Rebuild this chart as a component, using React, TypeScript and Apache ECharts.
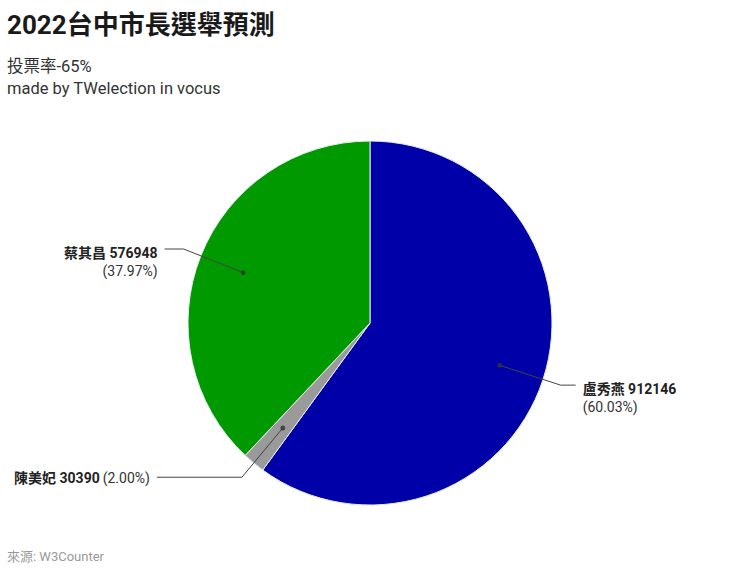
import React, { useEffect, useRef } from "react";
import * as echarts from "echarts";

const candidates = ["盧秀燕", "陳美妃", "蔡其昌"];
const votes = [912146, 30390, 576948];
const colors = ["#0000a8", "#9a9a9a", "#009900"];
const titleText = "2022台中市長選舉預測";
const subtitleLines = ["投票率-65%", "made by TWelection in vocus"];
const sourceText = "來源: W3Counter";

const FONT = 'Roboto, "Noto Sans CJK TC", "Noto Sans", sans-serif';
const CX = 370;
const CY = 323;
const PIE_R = 182;
const DOT_RATIO = 0.75;

export default function App() {
  const ref = useRef<HTMLDivElement>(null);
  useEffect(() => {
    document.body.style.margin = "0";
    if (!ref.current) return;
    const chart = echarts.init(ref.current, undefined, { renderer: "svg" });
    const total = votes.reduce((a, b) => a + b, 0);
    const pct = votes.map((v) => ((v / total) * 100).toFixed(2));
    let cum = 0;
    const mids = votes.map((v) => {
      const m = cum + v / 2;
      cum += v;
      return m;
    });
    const singleLine = [false, true, false];
    const length2s = [15, 85, 19];

    const labelData = candidates.map((name, i) => ({
      name,
      value: votes[i],
      label: {
        formatter: singleLine[i]
          ? `{b|${name} ${votes[i]}} {p|(${pct[i]}%)}`
          : `{b|${name} ${votes[i]}}\n{p|(${pct[i]}%)}`,
        padding: singleLine[i] ? [2, 0, 0, 0] : [25, 0, 0, 0],
      },
      labelLine: { length: 64, length2: length2s[i] },
    }));

    chart.setOption({
      animation: false,
      textStyle: { fontFamily: FONT },
      title: {
        left: 7,
        top: 11,
        padding: 0,
        text: titleText,
        textStyle: {
          fontFamily: FONT,
          fontSize: 26,
          fontWeight: "bold",
          color: "#1a1a1a",
          lineHeight: 28,
        },
        subtext: subtitleLines.join("\n"),
        subtextStyle: {
          fontFamily: FONT,
          fontSize: 16.5,
          color: "#333333",
          lineHeight: 22,
        },
        itemGap: 16,
      },
      polar: { center: [CX, CY], radius: PIE_R },
      angleAxis: {
        type: "value",
        min: 0,
        max: total,
        startAngle: 90,
        clockwise: true,
        show: false,
      },
      radiusAxis: { type: "value", min: 0, max: 1, show: false },
      graphic: [
        {
          type: "text",
          left: 7,
          top: 550,
          style: {
            text: sourceText,
            fontFamily: FONT,
            fontSize: 13,
            fill: "#999999",
          },
        },
      ],
      series: [
        {
          type: "pie",
          z: 1,
          center: [CX, CY],
          radius: [0, PIE_R],
          startAngle: 90,
          clockwise: true,
          silent: true,
          label: { show: false },
          labelLine: { show: false },
          itemStyle: { borderColor: "#e6ecf5", borderWidth: 1 },
          data: candidates.map((name, i) => ({
            name,
            value: votes[i],
            itemStyle: { color: colors[i] },
          })),
        },
        {
          type: "pie",
          z: 5,
          center: [CX, CY],
          radius: [0, PIE_R * DOT_RATIO],
          startAngle: 90,
          clockwise: true,
          silent: true,
          avoidLabelOverlap: false,
          itemStyle: { color: "rgba(0,0,0,0)", borderWidth: 0 },
          label: {
            show: true,
            position: "outside",
            distanceToLabelLine: 7,
            rich: {
              b: {
                fontFamily: FONT,
                fontSize: 14,
                fontWeight: "bold",
                color: "#222222",
                lineHeight: 18,
              },
              p: {
                fontFamily: FONT,
                fontSize: 14,
                color: "#333333",
                lineHeight: 18,
              },
            },
          },
          labelLine: {
            show: true,
            lineStyle: { color: "#444444", width: 1 },
          },
          data: labelData,
        },
        {
          type: "scatter",
          coordinateSystem: "polar",
          silent: true,
          symbol: "circle",
          symbolSize: 5,
          itemStyle: { color: "#333333" },
          z: 10,
          data: mids.map((m) => [DOT_RATIO, m]),
        },
      ],
    });
    return () => chart.dispose();
  }, []);
  return <div ref={ref} style={{ width: 740, height: 573 }} />;
}
